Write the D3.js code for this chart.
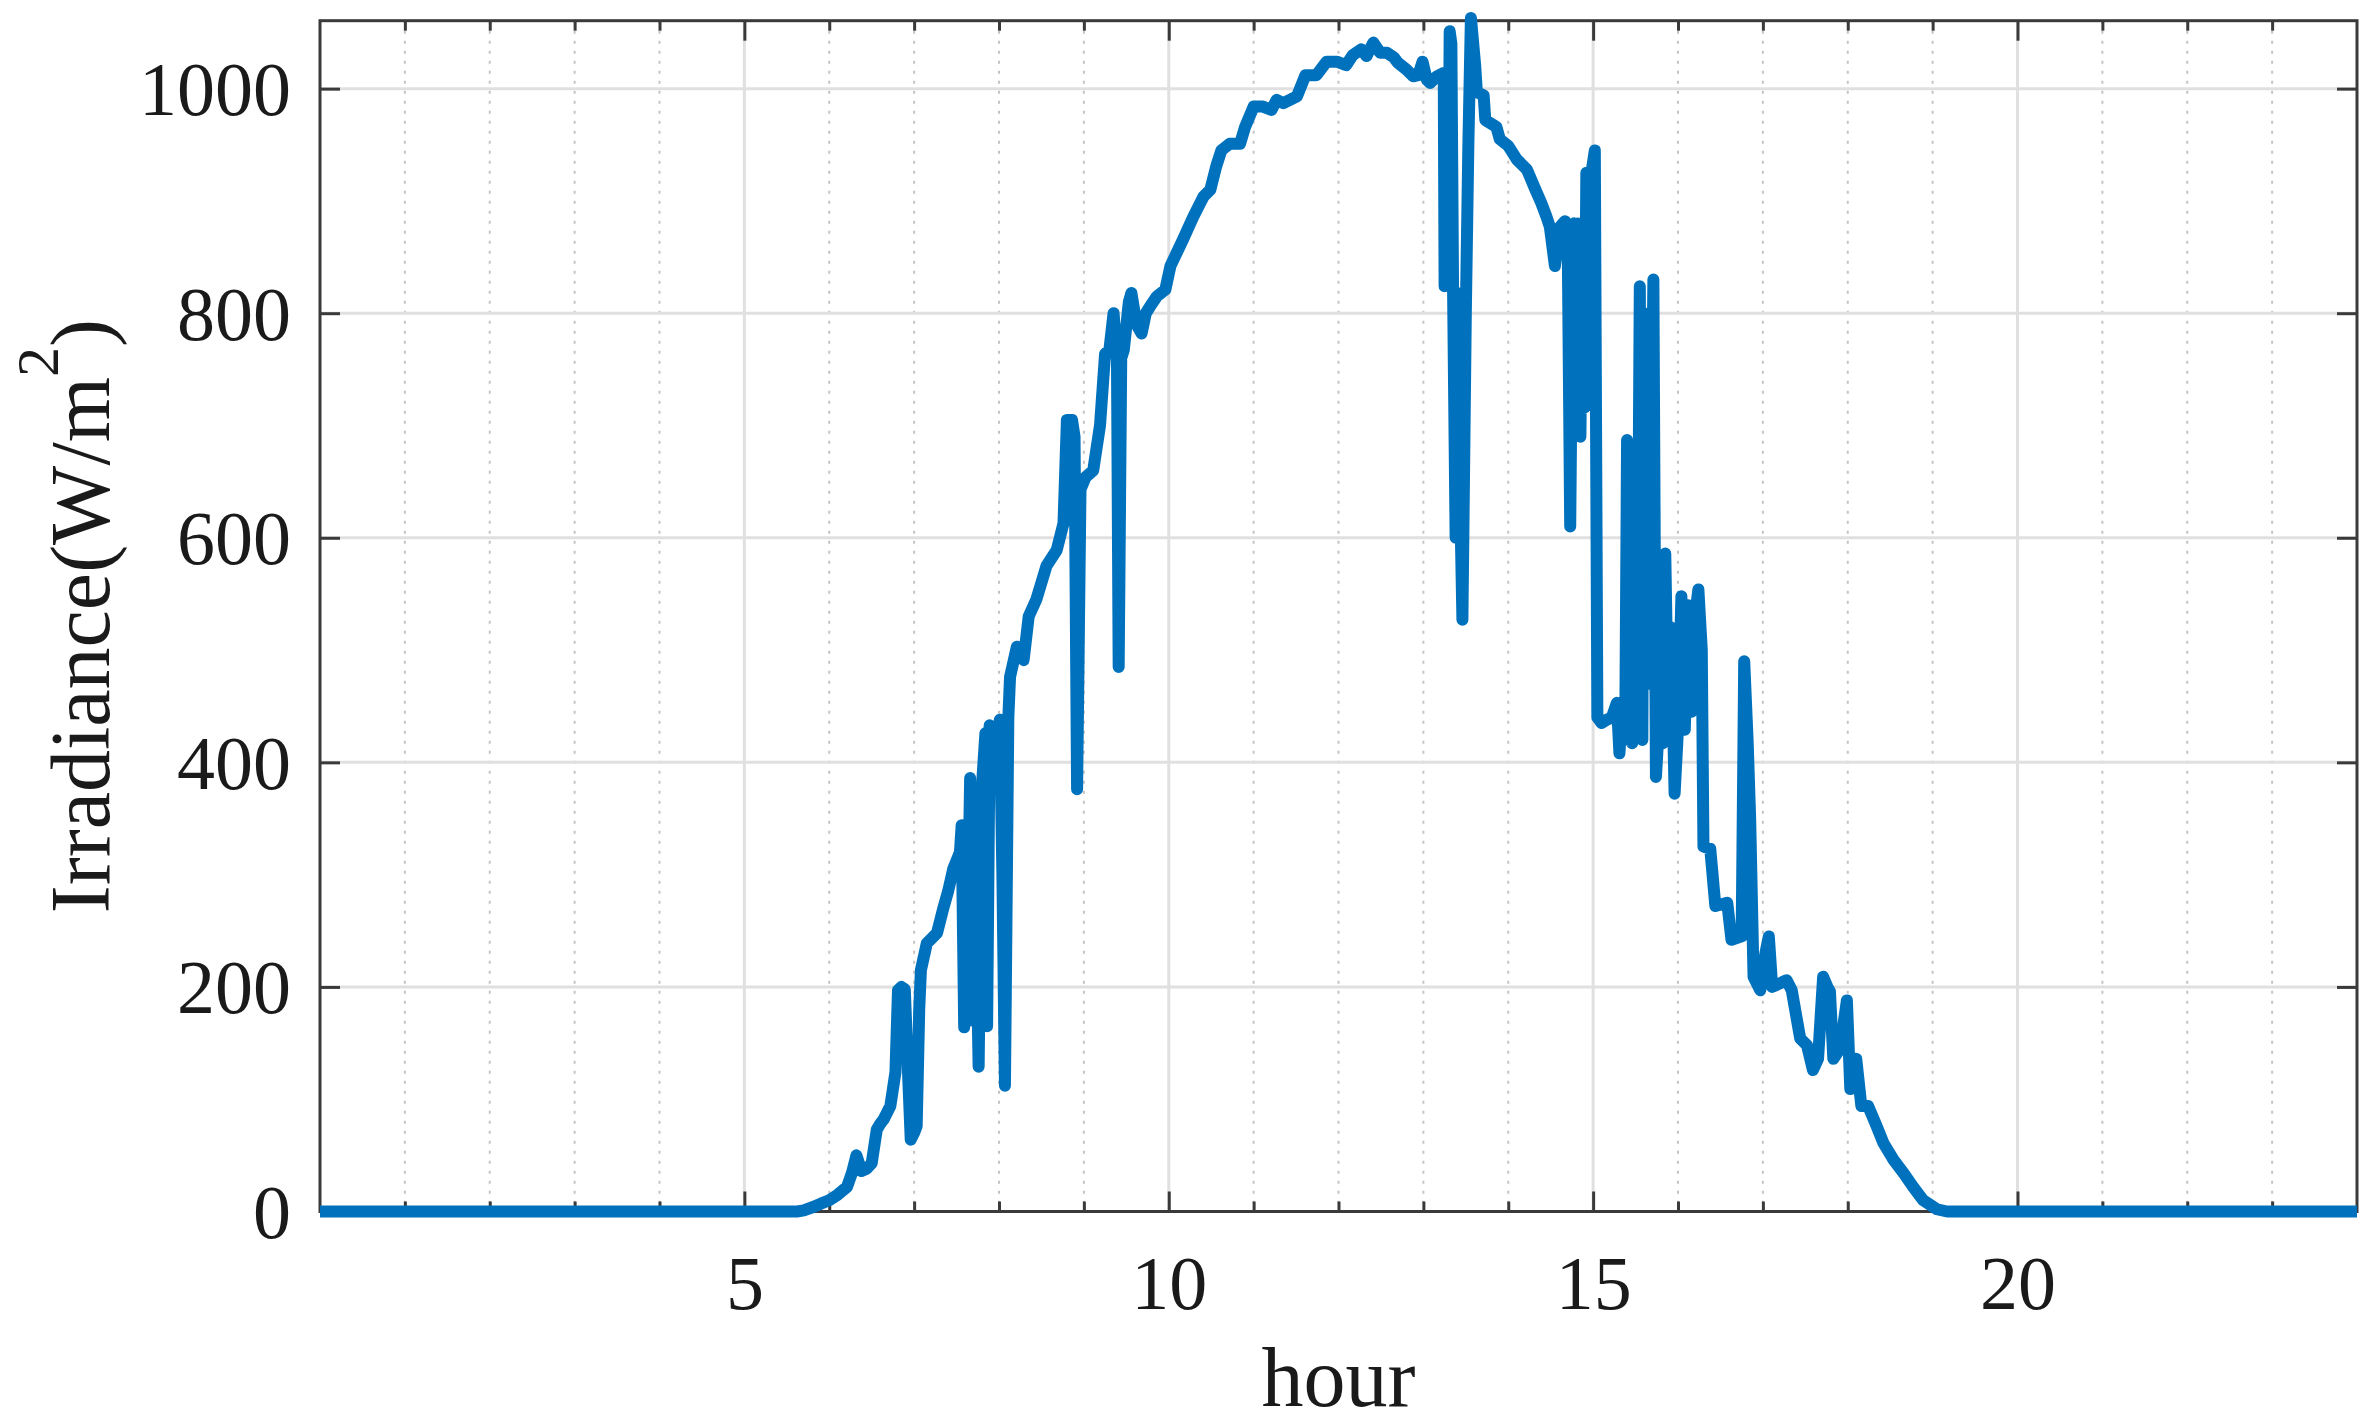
<!DOCTYPE html>
<html>
<head>
<meta charset="utf-8">
<script src="https://cdn.jsdelivr.net/npm/d3@7"></script>
<style>
  body { margin: 0; background: #fff; }
  svg text { font-family: "Liberation Serif", "Times New Roman", serif; fill: #1a1a1a; }
</style>
</head>
<body>
<svg id="chart" width="2379" height="1424"></svg>
<script>
// ---------------- data ----------------
const hours = [
  0, 5.62, 5.70, 5.81, 5.90, 6.00, 6.10, 6.21, 6.27, 6.32,
  6.38, 6.44, 6.50, 6.56, 6.60, 6.64, 6.72, 6.78, 6.81, 6.85,
  6.89, 6.93, 6.96, 7.00, 7.03, 7.06, 7.08, 7.15, 7.27, 7.34,
  7.40, 7.46, 7.54, 7.56, 7.59, 7.63, 7.66, 7.69, 7.72, 7.76,
  7.80, 7.84, 7.86, 7.89, 7.93, 7.95, 7.99, 8.01, 8.04, 8.07,
  8.11, 8.13, 8.21, 8.29, 8.35, 8.44, 8.56, 8.68, 8.76, 8.80,
  8.86, 8.89, 8.92, 8.96, 9.02, 9.11, 9.19, 9.25, 9.30, 9.35,
  9.39, 9.41, 9.44, 9.47, 9.53, 9.56, 9.62, 9.68, 9.73, 9.78,
  9.86, 9.96, 10.02, 10.17, 10.29, 10.41, 10.49, 10.56, 10.62, 10.72,
  10.84, 10.90, 11.00, 11.11, 11.21, 11.27, 11.35, 11.51, 11.61, 11.74,
  11.86, 11.98, 12.09, 12.17, 12.27, 12.33, 12.41, 12.49, 12.57, 12.65,
  12.70, 12.80, 12.88, 12.94, 12.99, 13.04, 13.08, 13.16, 13.24, 13.25,
  13.27, 13.29, 13.31, 13.33, 13.35, 13.38, 13.40, 13.43, 13.46, 13.50,
  13.53, 13.56, 13.61, 13.63, 13.71, 13.73, 13.86, 13.90, 14.00, 14.10,
  14.22, 14.32, 14.39, 14.45, 14.49, 14.55, 14.61, 14.67, 14.70, 14.73,
  14.76, 14.78, 14.80, 14.82, 14.85, 14.88, 14.90, 14.92, 14.95, 14.98,
  15.02, 15.05, 15.10, 15.16, 15.22, 15.28, 15.31, 15.34, 15.38, 15.40,
  15.42, 15.44, 15.46, 15.48, 15.52, 15.55, 15.58, 15.60, 15.63, 15.66,
  15.71, 15.74, 15.78, 15.82, 15.85, 15.88, 15.92, 15.96, 16.00, 16.04,
  16.08, 16.12, 16.16, 16.20, 16.24, 16.28, 16.30, 16.38, 16.44, 16.58,
  16.63, 16.75, 16.78, 16.82, 16.85, 16.89, 16.97, 17.03, 17.07, 17.11,
  17.28, 17.34, 17.44, 17.52, 17.59, 17.65, 17.71, 17.76, 17.79, 17.83,
  17.91, 17.99, 18.03, 18.10, 18.16, 18.24, 18.34, 18.42, 18.54, 18.66,
  18.77, 18.89, 19.05, 19.17, 24
];
const irradiance = [
  0, 0, 1, 4, 7, 10, 15, 22, 35, 50,
  36, 38, 43, 73, 78, 82, 94, 124, 197, 200,
  198, 120, 64, 70, 76, 180, 215, 239, 248, 269,
  285, 305, 320, 344, 164, 250, 386, 170, 300, 129,
  380, 426, 165, 433, 400, 396, 430, 438, 300, 112,
  440, 476, 503, 491, 530, 545, 575, 589, 613, 705,
  705, 690, 376, 643, 654, 660, 700, 764, 767, 800,
  758, 485, 760, 767, 810, 818, 790, 782, 800, 806,
  815, 821, 842, 866, 886, 904, 910, 931, 945, 951,
  951, 966, 984, 984, 981, 990, 987, 993, 1012, 1012,
  1024, 1024, 1021, 1030, 1035, 1029, 1041, 1032, 1032, 1028,
  1023, 1017, 1011, 1012, 1024, 1008, 1005, 1011, 1014, 824,
  900, 830, 1051, 1040, 820, 600, 818, 650, 527, 800,
  950, 1063, 1021, 997, 994, 972, 966, 955, 949, 937,
  928, 910, 898, 886, 877, 842, 877, 882, 870, 610,
  860, 880, 700, 880, 690, 880, 716, 925, 730, 925,
  945, 440, 435, 438, 440, 453, 408, 445, 446, 687,
  420, 680, 417, 446, 450, 824, 420, 800, 753, 470,
  830, 387, 440, 417, 586, 450, 520, 372, 430, 548,
  429, 540, 445, 530, 554, 500, 325, 323, 272, 275,
  242, 245, 490, 420, 350, 209, 197, 230, 245, 200,
  206, 197, 154, 148, 126, 136, 209, 200, 196, 136,
  145, 188, 109, 136, 94, 94, 76, 61, 46, 34,
  22, 10, 2, 0, 0
];
const xMajorTicks = [5, 10, 15, 20];
const xMinorTicks = [1, 2, 3, 4, 6, 7, 8, 9, 11, 12, 13, 14, 16, 17, 18, 19, 21, 22, 23];
const yTicks = [0, 200, 400, 600, 800, 1000];
const xLabel = "hour";
const yLabelMain = "Irradiance(W/m";
const yLabelSup = "2";
const yLabelEnd = ")";

// ---------------- layout ----------------
const L = 320, R = 2357, T = 20.7, B = 1211.5;
const svg = d3.select("#chart");
const x = d3.scaleLinear().domain([0, 24]).range([L, R]);
const y = d3.scaleLinear().domain([0, 1060.5]).range([B, T]);

const AX = "#3a3a3a";

// grid
const grid = svg.append("g");
grid.selectAll(".minor").data(xMinorTicks).join("line")
  .attr("x1", d => x(d)).attr("x2", d => x(d))
  .attr("y1", T).attr("y2", B)
  .attr("stroke", "#c4c4c4").attr("stroke-width", 2)
  .attr("stroke-dasharray", "3 7");
grid.selectAll(".majorx").data(xMajorTicks).join("line")
  .attr("x1", d => x(d)).attr("x2", d => x(d))
  .attr("y1", T).attr("y2", B)
  .attr("stroke", "#e0e0e0").attr("stroke-width", 3);
grid.selectAll(".majory").data(yTicks.filter(d => d > 0)).join("line")
  .attr("x1", L).attr("x2", R)
  .attr("y1", d => y(d)).attr("y2", d => y(d))
  .attr("stroke", "#e0e0e0").attr("stroke-width", 3);

function styleAxis(g) {
  g.select(".domain").remove();
  g.selectAll(".tick line").attr("stroke", AX).attr("stroke-width", 3);
  g.selectAll("text").attr("font-size", 76).attr("fill", "#1a1a1a")
    .attr("font-family", '"Liberation Serif", "Times New Roman", serif');
}

// bottom axis (major with labels, minor without)
const gb = svg.append("g").attr("transform", `translate(0,${B})`)
  .call(d3.axisBottom(x).tickValues(xMajorTicks).tickSize(-20).tickFormat(d3.format("d")));
styleAxis(gb);
gb.selectAll("text").attr("y", 97.5).attr("dy", 0);
const gbm = svg.append("g").attr("transform", `translate(0,${B})`)
  .call(d3.axisBottom(x).tickValues(xMinorTicks).tickSize(-10).tickFormat(""));
styleAxis(gbm);

// top axis
const gt = svg.append("g").attr("transform", `translate(0,${T})`)
  .call(d3.axisTop(x).tickValues(xMajorTicks).tickSize(-20).tickFormat(""));
styleAxis(gt);
const gtm = svg.append("g").attr("transform", `translate(0,${T})`)
  .call(d3.axisTop(x).tickValues(xMinorTicks).tickSize(-10).tickFormat(""));
styleAxis(gtm);

// left axis
const gl = svg.append("g").attr("transform", `translate(${L},0)`)
  .call(d3.axisLeft(y).tickValues(yTicks).tickSize(-20).tickPadding(29).tickFormat(d3.format("d")));
styleAxis(gl);
gl.selectAll("text").attr("dy", "0.34em");

// right axis
const gr = svg.append("g").attr("transform", `translate(${R},0)`)
  .call(d3.axisRight(y).tickValues(yTicks).tickSize(-20).tickFormat(""));
styleAxis(gr);

// box
svg.append("rect").attr("x", L).attr("y", T).attr("width", R - L).attr("height", B - T)
  .attr("fill", "none").attr("stroke", AX).attr("stroke-width", 3);

// data line
const pts = hours.map((h, i) => [h, irradiance[i]]);
svg.append("path").datum(pts)
  .attr("d", d3.line().x(d => x(d[0])).y(d => y(d[1])))
  .attr("fill", "none").attr("stroke", "#0072BD").attr("stroke-width", 12)
  .attr("stroke-linejoin", "round").attr("stroke-linecap", "butt");

// axis labels
svg.append("text").attr("x", (L + R) / 2).attr("y", 1406)
  .attr("text-anchor", "middle").attr("font-size", 84).text(xLabel);

const yl = svg.append("text")
  .attr("transform", `translate(109,${(T + B) / 2}) rotate(-90)`)
  .attr("text-anchor", "middle").attr("font-size", 84);
yl.append("tspan").text(yLabelMain);
yl.append("tspan").attr("font-size", 60).attr("dy", -51).text(yLabelSup);
yl.append("tspan").attr("font-size", 84).attr("dy", 51).text(yLabelEnd);
</script>
</body>
</html>
